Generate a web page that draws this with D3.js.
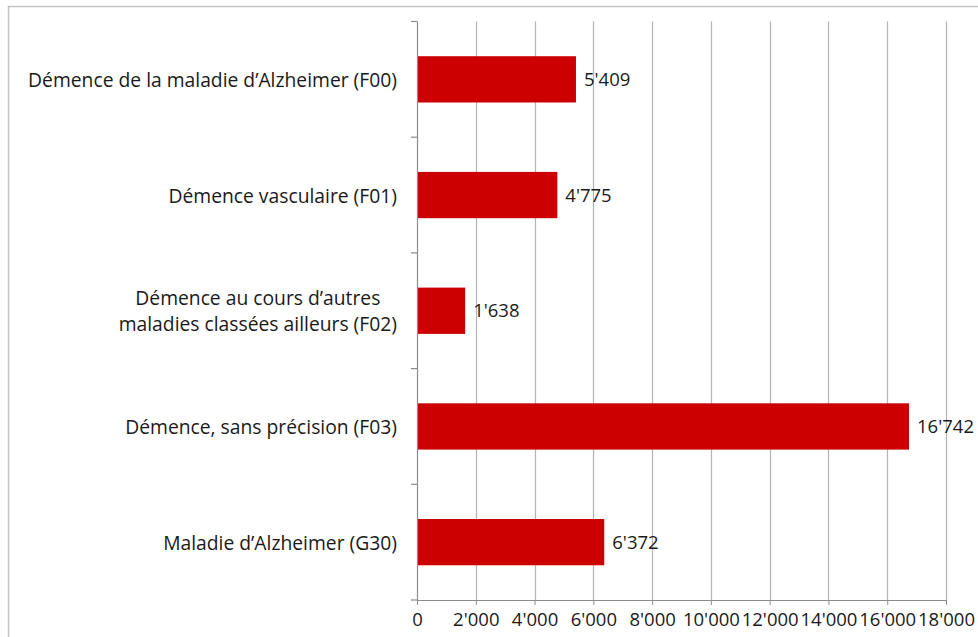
<!DOCTYPE html>
<html>
<head>
<meta charset="utf-8">
<script src="https://cdn.jsdelivr.net/npm/d3@7"></script>
<style>
  body { margin: 0; background: #fff; }
  text { font-family: "Open Sans", "Noto Sans", sans-serif; fill: #1a1a1a; }
</style>
</head>
<body>
<div id="chart"></div>
<script>
const categories = [
    ["Démence de la maladie d’Alzheimer (F00)"],
    ["Démence vasculaire (F01)"],
    ["Démence au cours d’autres", "maladies classées ailleurs (F02)"],
    ["Démence, sans précision (F03)"],
    ["Maladie d’Alzheimer (G30)"]
];
const values = [5409, 4775, 1638, 16742, 6372];
const xTicks = [0, 2000, 4000, 6000, 8000, 10000, 12000, 14000, 16000, 18000];

const fmt = v => d3.format(",")(v).replace(/,/g, "'");

const W = 978, H = 637;
const margin = { top: 21.5, right: 32, bottom: 37, left: 417 };
const labelRight = 397;
const labelSize = 19.3;
const lineGap = 26.4;

const svg = d3.select("#chart").append("svg")
    .attr("width", W)
    .attr("height", H);

// outer frame
svg.append("rect")
    .attr("x", 8.5).attr("y", 6.5)
    .attr("width", W + 10).attr("height", H + 10)
    .attr("fill", "none")
    .attr("stroke", "#c4c4c4")
    .attr("stroke-width", 1.5);

const x = d3.scaleLinear()
    .domain([0, 18000])
    .range([margin.left, 946]);

const y = d3.scaleBand()
    .domain(d3.range(categories.length))
    .range([margin.top, 600])
    .paddingInner(0.6)
    .paddingOuter(0.3);

const yEdges = d3.scaleLinear()
    .domain([0, categories.length])
    .range([margin.top, 600]);

// gridlines
svg.append("g")
    .selectAll("line")
    .data(xTicks.slice(1))
    .join("line")
    .attr("x1", d => Math.round(x(d)) + 0.5)
    .attr("x2", d => Math.round(x(d)) + 0.5)
    .attr("y1", margin.top)
    .attr("y2", 600)
    .attr("stroke", "#b3b3b3")
    .attr("stroke-width", 1.2);

// bars
svg.append("g")
    .selectAll("rect")
    .data(values)
    .join("rect")
    .attr("x", x(0))
    .attr("y", (d, i) => y(i))
    .attr("width", d => x(d) - x(0))
    .attr("height", y.bandwidth())
    .attr("fill", "#cc0000");

// value labels
svg.append("g")
    .selectAll("text")
    .data(values)
    .join("text")
    .attr("x", d => x(d) + 8)
    .attr("y", (d, i) => y(i) + y.bandwidth() / 2)
    .attr("dy", "0.36em")
    .attr("font-size", 18.5)
    .text(d => fmt(d));

// x axis
const xAxis = svg.append("g")
    .attr("transform", "translate(0,600)")
    .call(d3.axisBottom(x).tickValues(xTicks).tickFormat(fmt).tickSize(5).tickSizeOuter(0).tickPadding(8));
xAxis.select(".domain").attr("stroke", "#8c8c8c").attr("stroke-width", 1.2);
xAxis.selectAll(".tick line").attr("stroke", "#8c8c8c");
xAxis.selectAll(".tick text").attr("font-size", 18.5).attr("fill", "#1a1a1a");

// y axis line + boundary ticks
const yAxis = svg.append("g");
yAxis.append("line")
    .attr("x1", x(0) + 0.5).attr("x2", x(0) + 0.5)
    .attr("y1", margin.top).attr("y2", 600)
    .attr("stroke", "#8c8c8c").attr("stroke-width", 1.2);
yAxis.selectAll(".edge")
    .data(d3.range(categories.length + 1))
    .join("line")
    .attr("class", "edge")
    .attr("x1", x(0) - 6).attr("x2", x(0))
    .attr("y1", d => yEdges(d))
    .attr("y2", d => yEdges(d))
    .attr("stroke", "#8c8c8c").attr("stroke-width", 1.2);

// category labels: one text per line, multi-line labels centred as a block
const labelG = svg.append("g");
categories.forEach((lines, i) => {
    const cy = y(i) + y.bandwidth() / 2;
    const first = cy + 7.5 - (lines.length - 1) * lineGap / 2;
    const nodes = lines.map((t, j) => labelG.append("text")
        .attr("font-size", labelSize)
        .attr("y", first + j * lineGap)
        .text(t));
    const maxW = d3.max(nodes, n => n.node().getComputedTextLength());
    nodes.forEach(n => {
        if (lines.length === 1) {
            n.attr("text-anchor", "end").attr("x", labelRight);
        } else {
            n.attr("text-anchor", "middle").attr("x", labelRight - maxW / 2);
        }
    });
});
</script>
</body>
</html>
